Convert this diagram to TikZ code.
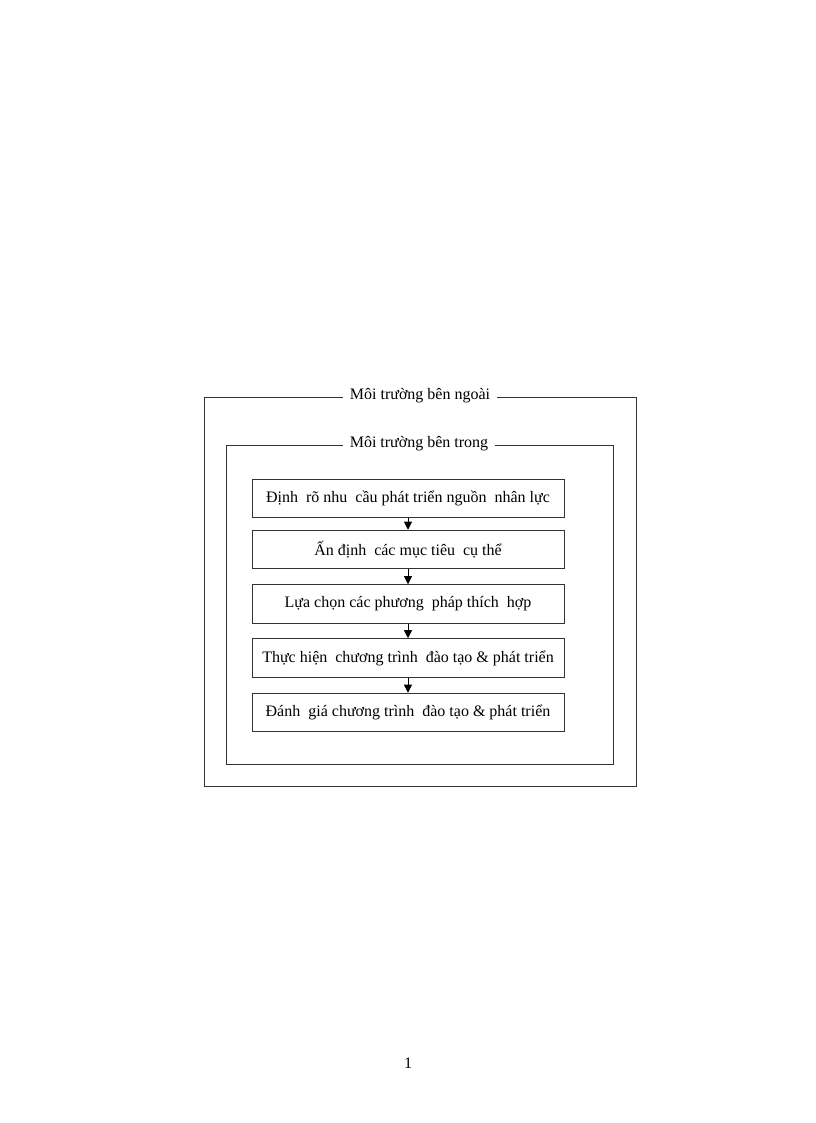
\documentclass[tikz,border=0pt]{standalone}
\usepackage{fontspec}
\setmainfont{Liberation Serif}
\usetikzlibrary{arrows.meta}
\begin{document}
\begin{tikzpicture}[x=0.75pt,y=-0.75pt,
  frame/.style={draw=black!80,line width=0.65pt},
  title/.style={fill=white,inner xsep=5pt,inner ysep=1pt,font=\fontsize{12}{14}\selectfont},
  stepbox/.style={draw=black!80,line width=0.65pt,minimum width=234pt,minimum height=29pt,inner sep=0pt,font=\fontsize{12}{14}\selectfont},
  link/.style={line width=0.65pt,-{Triangle[width=6pt,length=6pt]}}]
\useasboundingbox (0,0) rectangle (816,1123);
\fill[white] (0,0) rectangle (816,1123);
% outer frame
\draw[frame] (204,397) rectangle (636,786);
\node[title] (outer) at (420,396) {Môi trường bên ngoài};
% inner frame
\draw[frame] (226,445) rectangle (613,764);
\node[title] (inner) at (419,444) {Môi trường bên trong};
% steps
\node[stepbox] (s1) at (408,498.5) {Định\ \ rõ nhu\ \ cầu phát triển nguồn\ \ nhân lực};
\node[stepbox] (s2) at (408,549.5) {Ấn định\ \ các mục tiêu\ \ cụ thể};
\node[stepbox] (s3) at (408,604) {Lựa chọn các phương\ \ pháp thích\ \ hợp};
\node[stepbox] (s4) at (408,658) {Thực hiện\ \ chương trình\ \ đào tạo \& phát triển};
\node[stepbox] (s5) at (408,712.5) {Đánh\ \ giá chương trình\ \ đào tạo \& phát triển};
\draw[link] (s1) -- (s2);
\draw[link] (s2) -- (s3);
\draw[link] (s3) -- (s4);
\draw[link] (s4) -- (s5);
\node[font=\fontsize{12}{14}\selectfont] (page) at (408,1063) {1};
\end{tikzpicture}
\end{document}
